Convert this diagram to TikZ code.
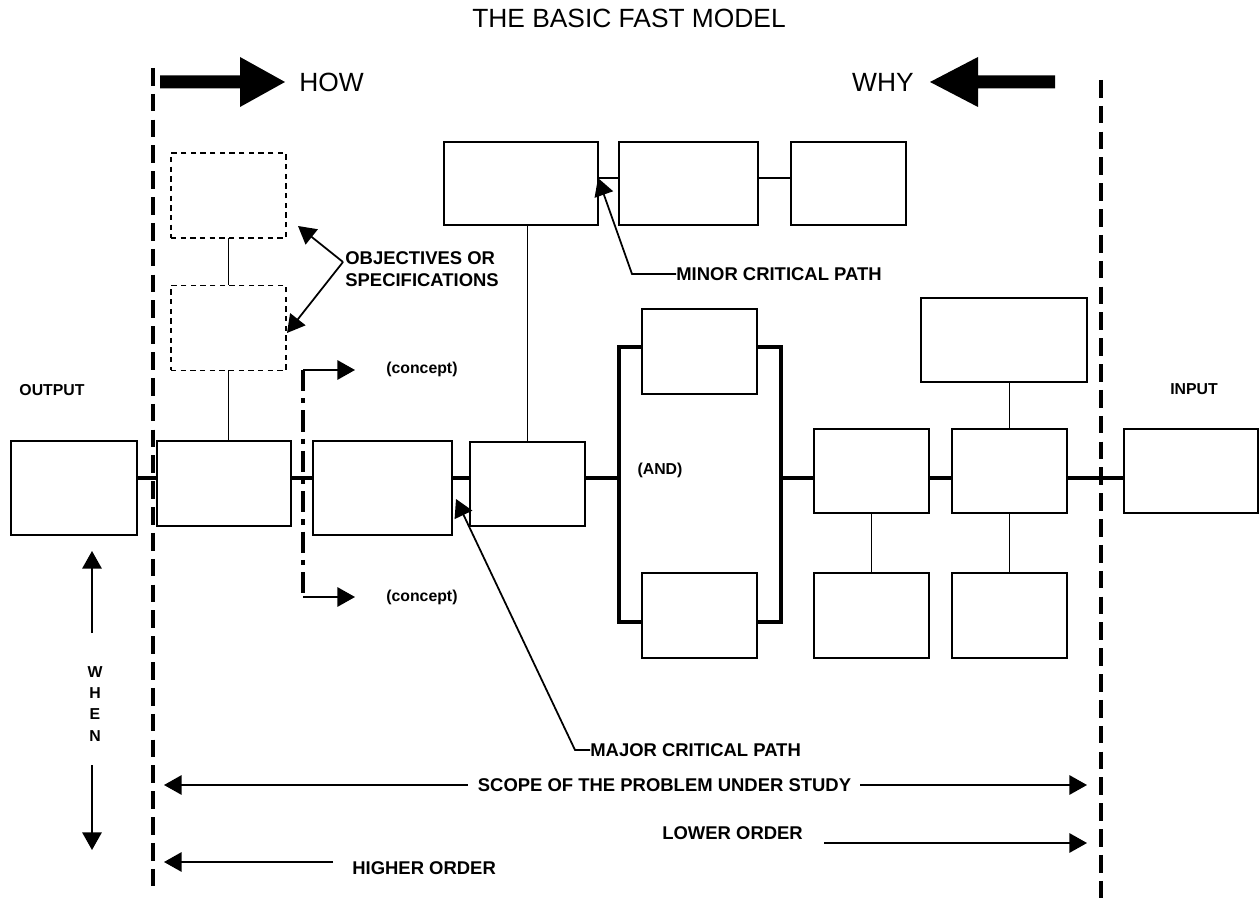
\documentclass[tikz,border=0pt]{standalone}
\usepackage{fontspec}
\setmainfont{Liberation Sans}
\usetikzlibrary{arrows.meta,calc}

\begin{document}
\begin{tikzpicture}[
    x=0.2mm, y=-0.2mm,
    >={Triangle[length=10pt,width=11pt]},
    fbox/.style={
        rectangle,
        draw,
        line width=1pt,
        inner sep=0pt,
        outer sep=0pt,
        minimum width=23mm,
        minimum height=17mm
    },
    objbox/.style={
        fbox,
        dash pattern=on 3pt off 2.5pt
    },
    spine/.style={line width=2.2pt},
    link/.style={line width=1pt},
    pointer/.style={->, line width=1pt},
    boundary/.style={line width=2.3pt, dash pattern=on 10pt off 4.7pt},
    ideas/.style={line width=2pt, dash pattern=on 12pt off 4pt on 3pt off 4pt},
    lbl/.style={font=\fontsize{10.5}{12.6}\selectfont\bfseries, inner sep=0pt},
    tag/.style={font=\fontsize{9}{12}\selectfont\bfseries, inner sep=0pt},
    head/.style={font=\fontsize{15}{18}\selectfont, inner sep=0pt}
]

\useasboundingbox (0,0) rectangle (1259,901);

% ---- Function boxes along the major critical path ----
\node[fbox, minimum width=25.2mm, minimum height=18.8mm] (out) at (74,488) {};
\node[fbox, minimum width=26.8mm]                        (f1)  at (224,483.5) {};
\node[fbox, minimum width=27.8mm, minimum height=18.8mm] (f2)  at (382.5,488) {};
\node[fbox, minimum height=16.8mm]                       (f3)  at (527.5,484) {};
\node[fbox]                                              (andT) at (699.5,351.5) {};
\node[fbox]                                              (andB) at (699.5,615.5) {};
\node[fbox, minimum height=16.8mm]                       (f4)  at (871.5,471) {};
\node[fbox, minimum height=16.8mm]                       (f5)  at (1009.5,471) {};
\node[fbox, minimum width=26.8mm, minimum height=16.8mm] (inp) at (1191,471) {};

% ---- Supporting functions ----
\node[fbox, minimum width=33.2mm, minimum height=16.8mm] (f5up) at (1004,340) {};
\node[fbox]                                              (f4dn) at (871.5,615.5) {};
\node[fbox]                                              (f5dn) at (1009.5,615.5) {};

% ---- Minor critical path ----
\node[fbox, minimum width=30.8mm, minimum height=16.6mm] (minA) at (521,183.5) {};
\node[fbox, minimum width=27.8mm, minimum height=16.6mm] (minB) at (688.5,183.5) {};
\node[fbox, minimum height=16.6mm]                       (minC) at (848.5,183.5) {};

% ---- Objectives / specifications ----
\node[objbox] (obj1) at (228.5,195.5) {};
\node[objbox] (obj2) at (228.5,328) {};

% ---- Texts ----
\node[head] (title) at (629,18) {THE BASIC FAST MODEL};
\node[head, anchor=west] (how) at (299,82) {HOW};
\node[head, anchor=east] (why) at (914,82) {WHY};
\node[tag] (outlbl) at (52,390) {OUTPUT};
\node[tag] (inlbl) at (1194,389) {INPUT};
\node[tag] (andlbl) at (660,470) {(AND)};
\node[tag, anchor=west] (cptA) at (386,369) {(concept)};
\node[tag, anchor=west] (cptB) at (386,597) {(concept)};
\node[lbl, anchor=west, align=left] (objlbl) at (345,269) {OBJECTIVES OR\\SPECIFICATIONS};
\node[lbl, anchor=west] (minor) at (676,274) {MINOR CRITICAL PATH};
\node[lbl, anchor=west] (major) at (590,750) {MAJOR CRITICAL PATH};
\node[lbl] (scope) at (664.5,785) {SCOPE OF THE PROBLEM UNDER STUDY};
\node[lbl, anchor=west] (lower) at (662,833) {LOWER ORDER};
\node[lbl, anchor=west] (higher) at (352,868) {HIGHER ORDER};
\node[tag, align=center] (when) at (95,704) {W\\H\\E\\N};

% ---- Free ends ----
\coordinate (sp)    at (0,478);
\coordinate (toprow) at (0,178);
\coordinate (andL)  at (619,478);
\coordinate (andR)  at (781,478);
\coordinate (hiTop) at (153,68);
\coordinate (hiBot) at (153,892);
\coordinate (loTop) at (1101,80);
\coordinate (loBot) at (1101,901);
\coordinate (cv1)   at (303,370);
\coordinate (cv2)   at (303,597);
\coordinate (cvA)   at (355,370);
\coordinate (cvB)   at (355,597);
\coordinate (objsrc) at (343,262);
\coordinate (objtipA) at (298,226);
\coordinate (objtipB) at (287,333);
\coordinate (mnBend) at (632,274);
\coordinate (mnTip)  at (598,178);
\coordinate (mjBend) at (575,750);
\coordinate (mjTip)  at (456,499);
\coordinate (wa)     at (92,633);
\coordinate (whenUp) at (92,551);
\coordinate (wb)     at (92,765);
\coordinate (whenDn) at (92,850);
\coordinate (scL)    at (164,785);
\coordinate (scR)    at (1087,785);
\coordinate (loA)    at (824,843);
\coordinate (loB)    at (1087,843);
\coordinate (hiA)    at (333,862);
\coordinate (hiB)    at (164,862);

% ---- Scope lines ----
\draw[boundary] (hiTop) -- (hiBot);
\draw[boundary] (loTop) -- (loBot);

% ---- HOW / WHY ----
\fill (160,75.5) -- (240,75.5) -- (240,57) -- (285,82) -- (240,107) -- (240,88.5) -- (160,88.5) -- cycle;
\fill (1055,75.5) -- (978,75.5) -- (978,57) -- (930,82) -- (978,107) -- (978,88.5) -- (1055,88.5) -- cycle;

% ---- Major critical path ----
\draw[spine] (out.east |- sp) -- (f1.west |- sp);
\draw[spine] (f1.east |- sp)  -- (f2.west |- sp);
\draw[spine] (f2.east |- sp)  -- (f3.west |- sp);
\draw[spine] (f3.east |- sp)  -- (andL);
\draw[spine] ([yshift=0.9mm]andT.west) -| (andL) |- ([yshift=-1.3mm]andB.west);
\draw[spine] ([yshift=0.9mm]andT.east) -| (andR) |- ([yshift=-1.3mm]andB.east);
\draw[spine] (andR) -- (f4.west |- sp);
\draw[spine] (f4.east |- sp)  -- (f5.west |- sp);
\draw[spine] (f5.east |- sp)  -- (inp.west |- sp);

% ---- Side links ----
\draw[link] (obj1.south) -- (obj2.north);
\draw[link] (obj2.south) -- (obj2.south |- f1.north);
\draw[link] (f3.north) -- (f3.north |- minA.south);
\draw[link] (minA.east |- toprow) -- (minB.west |- toprow);
\draw[link] (minB.east |- toprow) -- (minC.west |- toprow);
\draw[link] (f5.north) -- (f5.north |- f5up.south);
\draw[link] (f4.south) -- (f4dn.north);
\draw[link] (f5.south) -- (f5dn.north);

% ---- Concepts ----
\draw[ideas] (cv1) -- (cv2);
\draw[pointer] (cv1) -- (cvA);
\draw[pointer] (cv2) -- (cvB);

% ---- Pointers ----
\draw[pointer] (objsrc) -- (objtipA);
\draw[pointer] (objsrc) -- (objtipB);
\draw[pointer] (minor.west) -- (mnBend) -- (mnTip);
\draw[pointer] (major.west) -- (mjBend) -- (mjTip);
\draw[pointer] (wa) -- (whenUp);
\draw[pointer] (wb) -- (whenDn);
\draw[pointer] ([xshift=-2mm]scope.west) -- (scL);
\draw[pointer] ([xshift=1.8mm]scope.east) -- (scR);
\draw[pointer] (loA) -- (loB);
\draw[pointer] (hiA) -- (hiB);

\end{tikzpicture}
\end{document}
